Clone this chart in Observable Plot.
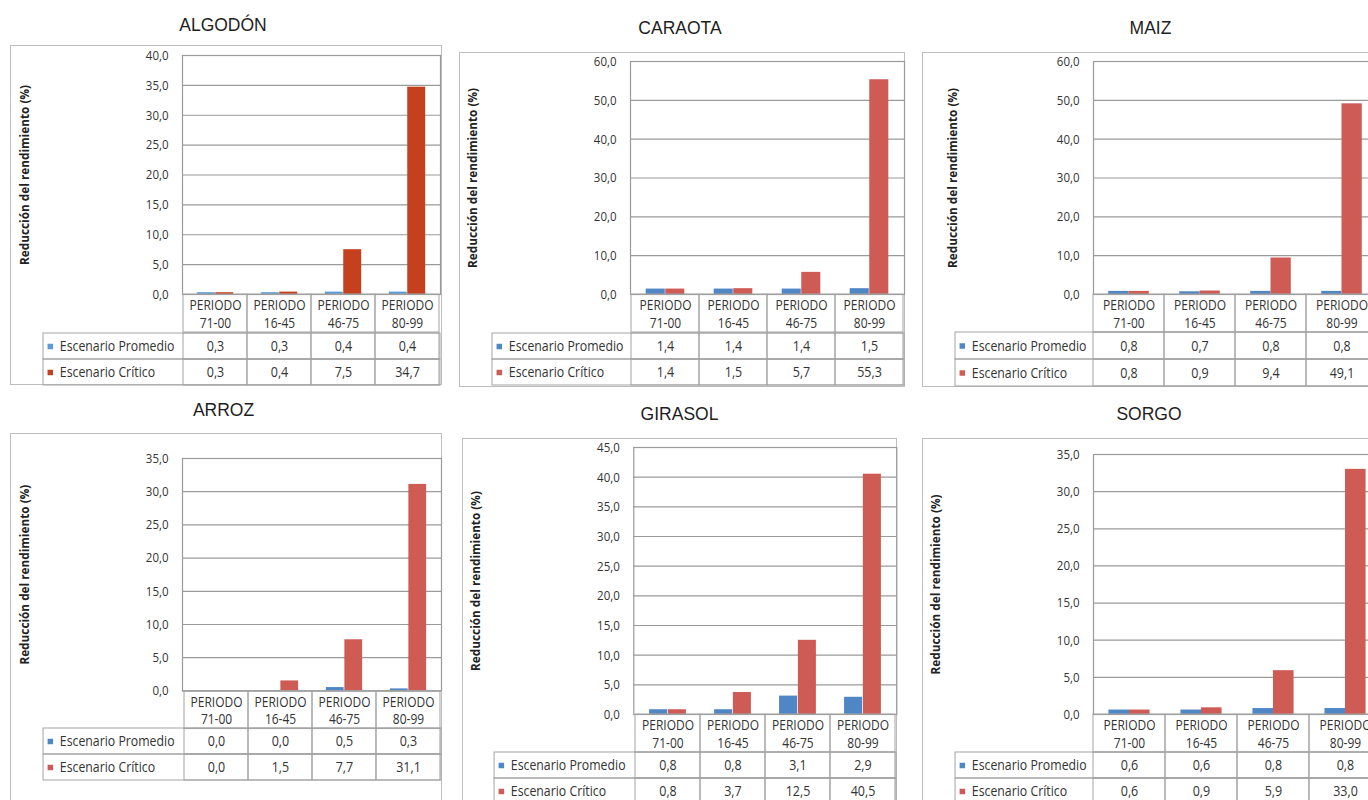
<!DOCTYPE html>
<html>
<head>
<meta charset="utf-8">
<script src="https://cdn.jsdelivr.net/npm/d3@7"></script>
<script src="https://cdn.jsdelivr.net/npm/@observablehq/plot@0.6"></script>
<style>
  html, body { margin: 0; padding: 0; background: #fff; }
  body { width: 1368px; height: 800px; overflow: hidden; position: relative; font-family: "Open Sans", sans-serif; }
  .titulo { position: absolute; transform: translate(-50%, -50%); font-family: "Liberation Sans", Arial, sans-serif; font-size: 17.5px; color: #1e1e1e; white-space: nowrap; }
  .marco { position: absolute; border: 1.5px solid #bdbdbd; box-sizing: border-box; }
</style>
</head>
<body>
<script>
// Reducción del rendimiento (%) por cultivo, periodo y escenario
const cultivos = ["ALGODÓN", "CARAOTA", "MAIZ", "ARROZ", "GIRASOL", "SORGO"];
const periodos = ["71-00", "16-45", "46-75", "80-99"];
const escenarios = ["Escenario Promedio", "Escenario Crítico"];
const promedio = [
  [0.3, 0.3, 0.4, 0.4],
  [1.4, 1.4, 1.4, 1.5],
  [0.8, 0.7, 0.8, 0.8],
  [0.0, 0.0, 0.5, 0.3],
  [0.8, 0.8, 3.1, 2.9],
  [0.6, 0.6, 0.8, 0.8]
];
const critico = [
  [0.3, 0.4, 7.5, 34.7],
  [1.4, 1.5, 5.7, 55.3],
  [0.8, 0.9, 9.4, 49.1],
  [0.0, 1.5, 7.7, 31.1],
  [0.8, 3.7, 12.5, 40.5],
  [0.6, 0.9, 5.9, 33.0]
];
const ejeMaximo = [40, 60, 60, 35, 45, 35];
const ejePaso = [5, 10, 10, 5, 5, 5];
const etiquetaY = "Reducción del rendimiento (%)";
const prefijoPeriodo = "PERIODO";

// Colores de las series
const paletas = [
  ["#5B9BD5", "#C4401E"],
  ["#4F86C6", "#CF5B55"],
  ["#4F86C6", "#CF5B55"],
  ["#4F86C6", "#CF5B55"],
  ["#4F86C6", "#CF5B55"],
  ["#4F86C6", "#CF5B55"]
];

// Disposición de cada panel en la página (px)
// t: centro del título; f: recuadro; pl/pr/pt: área de trazado; z: línea base;
// hb: fin de la fila de periodos; tb: fin de la tabla; tl: borde izquierdo de la tabla; lx: centro del rótulo Y
const paneles = [
  {tx: 223,   ty: 24.5, fx: 10,    fy: 45,    fw: 431.7, fh: 340,   pl: 182,  pr: 440,  pt: 55,    z: 294,   hb: 332,   tb: 385,   tl: 43,  lx: 25},
  {tx: 680,   ty: 27.5, fx: 459,   fy: 51.7,  fw: 446,   fh: 335,   pl: 630,  pr: 904,  pt: 61,    z: 294,   hb: 332,   tb: 385,   tl: 492, lx: 473},
  {tx: 1150.5,ty: 27.5, fx: 922,   fy: 51.7,  fw: 478,   fh: 335,   pl: 1093, pr: 1377, pt: 61,    z: 294,   hb: 332,   tb: 386,   tl: 955, lx: 953},
  {tx: 223.5, ty: 410,  fx: 10,    fy: 432.7, fw: 431.7, fh: 400,   pl: 182,  pr: 441,  pt: 458.3, z: 690.7, hb: 728.3, tb: 781,   tl: 43,  lx: 25},
  {tx: 679.5, ty: 414,  fx: 461.7, fy: 437.7, fw: 435,   fh: 400,   pl: 633,  pr: 896,  pt: 447.3, z: 714.3, hb: 752.3, tb: 805,   tl: 494, lx: 475},
  {tx: 1149,  ty: 414,  fx: 922,   fy: 437.7, fw: 478,   fh: 400,   pl: 1093, pr: 1381, pt: 454.3, z: 714.3, hb: 752.3, tb: 805,   tl: 955, lx: 936}
];

const gris = "#a3a3a3";
const grisRejilla = "#9a9a9a";
const texto = "#333";
const alargamiento = 1.15; // letra alta y estrecha, al estilo de Calibri
const fmt = v => v.toFixed(1).replace(".", ",");

function colocar(node, left, top) {
  node.style.position = "absolute";
  node.style.left = left + "px";
  node.style.top = top + "px";
  document.body.appendChild(node);
}

// estira verticalmente cada texto alrededor de su propio centro
function alargar(svg) {
  svg.querySelectorAll("text:not(.recto)").forEach(t => {
    const b = t.getBBox();
    const cx = b.x + b.width / 2, cy = b.y + b.height / 2;
    const previo = t.getAttribute("transform") || "";
    t.setAttribute("transform", `${previo} translate(${cx},${cy}) scale(1,${alargamiento}) translate(${-cx},${-cy})`);
  });
}

const estilo = {background: "transparent", overflow: "visible", color: texto, fontFamily: "Open Sans, sans-serif", fontSize: "11.5px"};

cultivos.forEach((cultivo, i) => {
  const p = paneles[i];
  const colores = paletas[i];
  const filas = periodos.flatMap((periodo, j) => [
    {periodo, escenario: escenarios[0], valor: promedio[i][j]},
    {periodo, escenario: escenarios[1], valor: critico[i][j]}
  ]);
  const ticks = d3.range(0, ejeMaximo[i] + ejePaso[i] / 2, ejePaso[i]);

  // recuadro del gráfico
  const marco = document.createElement("div");
  marco.className = "marco";
  marco.style.width = p.fw + "px";
  marco.style.height = p.fh + "px";
  colocar(marco, p.fx, p.fy);

  // título
  const titulo = document.createElement("div");
  titulo.className = "titulo";
  titulo.textContent = cultivo;
  colocar(titulo, p.tx, p.ty);

  // barras agrupadas: cada periodo ocupa una banda; cada escenario, una fracción de ella
  const banda = (p.pr - p.pl) / periodos.length;
  const ancho = banda / 3.5;
  const borde = ancho * 0.75;
  const mt = 10;
  const grafico = Plot.plot({
    width: p.pr - p.fx,
    height: p.z - p.pt + mt,
    marginLeft: p.pl - p.fx,
    marginRight: 0,
    marginTop: mt,
    marginBottom: 0,
    style: estilo,
    x: {domain: periodos, padding: 0, axis: null},
    y: {domain: [0, ejeMaximo[i]], ticks, tickFormat: fmt, tickSize: 0, tickPadding: 14, label: null},
    color: {domain: escenarios, range: colores},
    marks: [
      Plot.ruleY(ticks, {stroke: grisRejilla, strokeWidth: 1.2}),
      Plot.barY(filas.filter(d => d.escenario === escenarios[0]), {x: "periodo", y: "valor", fill: "escenario", insetLeft: borde, insetRight: borde + ancho}),
      Plot.barY(filas.filter(d => d.escenario === escenarios[1]), {x: "periodo", y: "valor", fill: "escenario", insetLeft: borde + ancho, insetRight: borde}),
      Plot.frame({stroke: grisRejilla, strokeWidth: 1.2}),
      Plot.text([etiquetaY], {text: d => d, frameAnchor: "left", dx: p.lx - p.pl, rotate: -90, textAnchor: "middle", lineAnchor: "middle", fontWeight: "bold", fontSize: 11.8, fill: "#222", className: "rotulo"})
    ]
  });
  colocar(grafico, p.fx, p.pt - mt);
  grafico.querySelectorAll(".rotulo text").forEach(t => t.classList.add("recto"));
  alargar(grafico);

  // fila de periodos bajo el eje
  const cabecera = Plot.plot({
    width: p.pr - p.pl,
    height: p.hb - p.z,
    margin: 0,
    style: estilo,
    x: {domain: periodos, padding: 0, axis: null},
    marks: [
      Plot.cell(periodos, {x: d => d, fill: "none", stroke: gris}),
      Plot.text(periodos, {x: d => d, text: d => prefijoPeriodo + "\n" + d, lineHeight: 1.25, fill: texto, fontSize: 12})
    ]
  });
  colocar(cabecera, p.pl, p.z);
  alargar(cabecera);

  // tabla de datos con la leyenda en la primera columna
  const tabla = Plot.plot({
    width: p.pr - p.tl,
    height: p.tb - p.hb,
    margin: 0,
    style: estilo,
    x: {domain: periodos, range: [p.pl - p.tl, p.pr - p.tl], padding: 0, axis: null},
    y: {domain: escenarios, padding: 0, axis: null},
    color: {domain: escenarios, range: colores},
    marks: [
      Plot.cell(escenarios, {y: d => d, fill: "none", stroke: gris}),
      Plot.cell(filas, {x: "periodo", y: "escenario", fill: "none", stroke: gris}),
      Plot.text(filas, {x: "periodo", y: "escenario", text: d => fmt(d.valor), fill: texto, fontSize: 12.5}),
      Plot.dot(escenarios, {y: d => d, frameAnchor: "left", dx: 6.8, symbol: "square", r: 3.1, fill: d => d, stroke: "none"}),
      Plot.text(escenarios, {y: d => d, text: d => d, frameAnchor: "left", dx: 16.3, textAnchor: "start", fill: texto, fontSize: 12.3})
    ]
  });
  colocar(tabla, p.tl, p.hb);
  alargar(tabla);
});
</script>
</body>
</html>
